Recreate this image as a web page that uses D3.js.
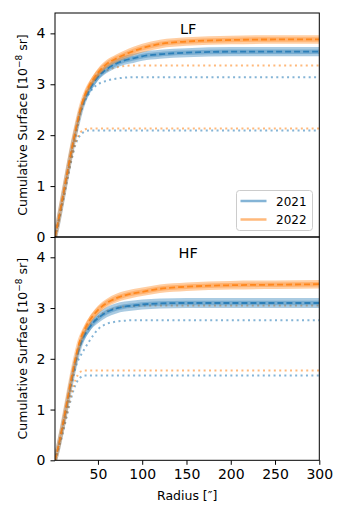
<!DOCTYPE html>
<html>
<head>
<meta charset="utf-8">
<script src="https://cdn.jsdelivr.net/npm/d3@7"></script>
<style>
  body { margin: 0; background: #fff; }
  text { font-family: "DejaVu Sans", sans-serif; fill: #000; }
</style>
</head>
<body>
<div id="chart"></div>
<script>
// radius grid (arcsec)
var radius = [1.5, 5, 10, 15, 20, 25, 30, 35, 40, 45, 50, 60, 70, 80, 90, 100, 120, 150, 200, 250, 300];

// LF panel
var lf2021 = [0, 0.28, 0.74, 1.21, 1.67, 2.08, 2.44, 2.70, 2.88, 3.03, 3.15, 3.30, 3.40, 3.47, 3.51, 3.55, 3.59, 3.62, 3.64, 3.64, 3.64];
var lf2022 = [0, 0.30, 0.77, 1.24, 1.70, 2.12, 2.50, 2.78, 2.97, 3.11, 3.23, 3.40, 3.50, 3.58, 3.65, 3.71, 3.79, 3.84, 3.87, 3.88, 3.88];
var lf2021Err = [0, 0.01, 0.02, 0.03, 0.04, 0.05, 0.06, 0.07, 0.07, 0.08, 0.08, 0.08, 0.085, 0.085, 0.09, 0.09, 0.09, 0.09, 0.09, 0.09, 0.09];
var lf2022Err = [0, 0.01, 0.02, 0.03, 0.04, 0.05, 0.06, 0.07, 0.07, 0.075, 0.08, 0.08, 0.08, 0.085, 0.085, 0.085, 0.085, 0.085, 0.085, 0.085, 0.085];
var lf2021Lo = [0, 0.25, 0.66, 1.10, 1.50, 1.83, 2.00, 2.07, 2.09, 2.09, 2.09, 2.09, 2.09, 2.09, 2.09, 2.09, 2.09, 2.09, 2.09, 2.09, 2.09];
var lf2022Lo = [0, 0.26, 0.68, 1.12, 1.53, 1.87, 2.05, 2.11, 2.13, 2.13, 2.13, 2.13, 2.13, 2.13, 2.13, 2.13, 2.13, 2.13, 2.13, 2.13, 2.13];
var lf2021Hi = [0, 0.27, 0.70, 1.15, 1.60, 2.00, 2.40, 2.66, 2.82, 2.93, 3.00, 3.07, 3.11, 3.13, 3.14, 3.14, 3.14, 3.14, 3.14, 3.14, 3.14];
var lf2022Hi = [0, 0.28, 0.72, 1.18, 1.63, 2.05, 2.45, 2.74, 2.92, 3.05, 3.15, 3.27, 3.33, 3.36, 3.37, 3.37, 3.37, 3.37, 3.37, 3.37, 3.37];

// HF panel
var hf2021 = [0, 0.24, 0.65, 1.10, 1.55, 1.95, 2.27, 2.47, 2.61, 2.72, 2.80, 2.92, 2.99, 3.03, 3.05, 3.07, 3.09, 3.10, 3.10, 3.10, 3.10];
var hf2022 = [0, 0.25, 0.68, 1.15, 1.62, 2.04, 2.38, 2.58, 2.74, 2.86, 2.96, 3.10, 3.19, 3.25, 3.29, 3.32, 3.38, 3.42, 3.45, 3.46, 3.47];
var hf2021Err = [0, 0.01, 0.02, 0.03, 0.05, 0.06, 0.07, 0.08, 0.09, 0.09, 0.1, 0.1, 0.1, 0.1, 0.1, 0.1, 0.1, 0.1, 0.1, 0.1, 0.1];
var hf2022Err = [0, 0.01, 0.02, 0.03, 0.04, 0.05, 0.06, 0.07, 0.08, 0.08, 0.085, 0.085, 0.085, 0.085, 0.085, 0.085, 0.085, 0.085, 0.085, 0.085, 0.085];
var hf2021Lo = [0, 0.20, 0.52, 0.88, 1.24, 1.50, 1.63, 1.67, 1.67, 1.67, 1.67, 1.67, 1.67, 1.67, 1.67, 1.67, 1.67, 1.67, 1.67, 1.67, 1.67];
var hf2022Lo = [0, 0.22, 0.55, 0.92, 1.30, 1.60, 1.74, 1.77, 1.77, 1.77, 1.77, 1.77, 1.77, 1.77, 1.77, 1.77, 1.77, 1.77, 1.77, 1.77, 1.77];
var hf2021Hi = [0, 0.23, 0.62, 1.05, 1.47, 1.85, 2.05, 2.20, 2.34, 2.47, 2.58, 2.69, 2.73, 2.75, 2.76, 2.76, 2.76, 2.76, 2.76, 2.76, 2.76];
var hf2022Hi = [0, 0.24, 0.64, 1.08, 1.52, 1.95, 2.28, 2.48, 2.62, 2.73, 2.82, 2.94, 3.00, 3.03, 3.04, 3.05, 3.05, 3.05, 3.05, 3.05, 3.05];

var years = ["2021", "2022"];
var xTicks = [50, 100, 150, 200, 250, 300];
var yTicks = [0, 1, 2, 3, 4];

function init() {
    var w = 346;
    var h = 519;
    var left = 55, right = 319.3;
    var colors = { "2021": "#1f77b4", "2022": "#ff7f0e" };

    var panels = [
        { name: "LF", top: 13, bottom: 237,
          series: [
            { year: "2021", mean: lf2021, err: lf2021Err, lo: lf2021Lo, hi: lf2021Hi },
            { year: "2022", mean: lf2022, err: lf2022Err, lo: lf2022Lo, hi: lf2022Hi }
          ] },
        { name: "HF", top: 237, bottom: 460.3,
          series: [
            { year: "2021", mean: hf2021, err: hf2021Err, lo: hf2021Lo, hi: hf2021Hi },
            { year: "2022", mean: hf2022, err: hf2022Err, lo: hf2022Lo, hi: hf2022Hi }
          ] }
    ];

    var xScale = d3.scaleLinear()
        .domain([1.5, 300])
        .range([left, right]);

    var svg = d3.select("#chart")
        .append("svg")
        .attr("width", w)
        .attr("height", h);

    panels.forEach(function(p, pi) {
        var yScale = d3.scaleLinear()
            .domain([0, 4.4])
            .range([p.bottom, p.top]);

        var clipId = "clip" + pi;
        svg.append("clipPath")
            .attr("id", clipId)
            .append("rect")
            .attr("x", left)
            .attr("y", p.top)
            .attr("width", right - left)
            .attr("height", p.bottom - p.top);

        var g = svg.append("g").attr("clip-path", "url(#" + clipId + ")");

        var line = function(arr) {
            return d3.line()
                .x(function(d, i) { return xScale(radius[i]); })
                .y(function(d) { return yScale(d); })
                .curve(d3.curveMonotoneX)(arr);
        };

        // dotted curves first
        p.series.forEach(function(s) {
            [s.lo, s.hi].forEach(function(arr) {
                g.append("path")
                    .attr("d", line(arr))
                    .attr("fill", "none")
                    .attr("stroke", colors[s.year])
                    .attr("stroke-opacity", 0.55)
                    .attr("stroke-width", 2)
                    .attr("stroke-dasharray", "2,3.4");
            });
        });

        // bands + mean lines
        p.series.forEach(function(s) {
            var area = d3.area()
                .x(function(d, i) { return xScale(radius[i]); })
                .y0(function(d, i) { return yScale(d - s.err[i]); })
                .y1(function(d, i) { return yScale(d + s.err[i]); })
                .curve(d3.curveMonotoneX);

            g.append("path")
                .attr("d", area(s.mean))
                .attr("fill", colors[s.year])
                .attr("fill-opacity", 0.38);

            g.append("path")
                .attr("d", line(s.mean))
                .attr("fill", "none")
                .attr("stroke", colors[s.year])
                .attr("stroke-opacity", 0.35)
                .attr("stroke-width", 4.5);

            g.append("path")
                .attr("d", line(s.mean))
                .attr("fill", "none")
                .attr("stroke", colors[s.year])
                .attr("stroke-opacity", 0.85)
                .attr("stroke-width", 1.8)
                .attr("stroke-dasharray", "6,3");
        });

        // y axis
        var yAxis = svg.append("g")
            .attr("transform", "translate(" + left + ",0)")
            .call(d3.axisLeft(yScale).tickValues(yTicks).tickSize(4.5).tickPadding(5).tickFormat(d3.format("d")));
        yAxis.select(".domain").remove();
        yAxis.selectAll("text").style("font-size", "14px").style("font-family", "DejaVu Sans");

        // frame
        svg.append("rect")
            .attr("x", left)
            .attr("y", p.top)
            .attr("width", right - left)
            .attr("height", p.bottom - p.top)
            .attr("fill", "none")
            .attr("stroke", "#000")
            .attr("stroke-width", 1);

        svg.append("text")
            .attr("x", (left + right) / 2 + 1)
            .attr("y", p.top + 21)
            .attr("text-anchor", "middle")
            .style("font-size", "14.5px")
            .text(p.name);

        svg.append("text")
            .attr("transform", "translate(27," + (p.top + p.bottom) / 2 + ") rotate(-90)")
            .attr("text-anchor", "middle")
            .style("font-size", "12.5px")
            .html("Cumulative Surface [10<tspan dy='-5' font-size='9px'>\u22128</tspan><tspan dy='5'> sr]</tspan>");

        if (pi === 1) {
            var xAxis = svg.append("g")
                .attr("transform", "translate(0," + p.bottom + ")")
                .call(d3.axisBottom(xScale).tickValues(xTicks).tickSize(4.5).tickPadding(4));
            xAxis.select(".domain").remove();
            xAxis.selectAll("text").style("font-size", "14px").style("font-family", "DejaVu Sans");
        }
    });

    // x label
    svg.append("text")
        .attr("x", (left + right) / 2)
        .attr("y", 500)
        .attr("text-anchor", "middle")
        .style("font-size", "12.5px")
        .text("Radius [\u2033]");

    // legend
    var legend = svg.append("g").attr("transform", "translate(236.5,190.5)");
    legend.append("rect")
        .attr("width", 76)
        .attr("height", 40)
        .attr("rx", 3)
        .attr("fill", "#fff")
        .attr("fill-opacity", 0.8)
        .attr("stroke", "#ccc");
    years.forEach(function(y, i) {
        legend.append("line")
            .attr("x1", 4)
            .attr("x2", 30)
            .attr("y1", 10.5 + i * 18.5)
            .attr("y2", 10.5 + i * 18.5)
            .attr("stroke", colors[y])
            .attr("stroke-opacity", 0.55)
            .attr("stroke-width", 2.5);
        legend.append("text")
            .attr("x", 39.5)
            .attr("y", 15 + i * 18.5)
            .style("font-size", "12px")
            .text(y);
    });
}

window.onload = init;
</script>
</body>
</html>
